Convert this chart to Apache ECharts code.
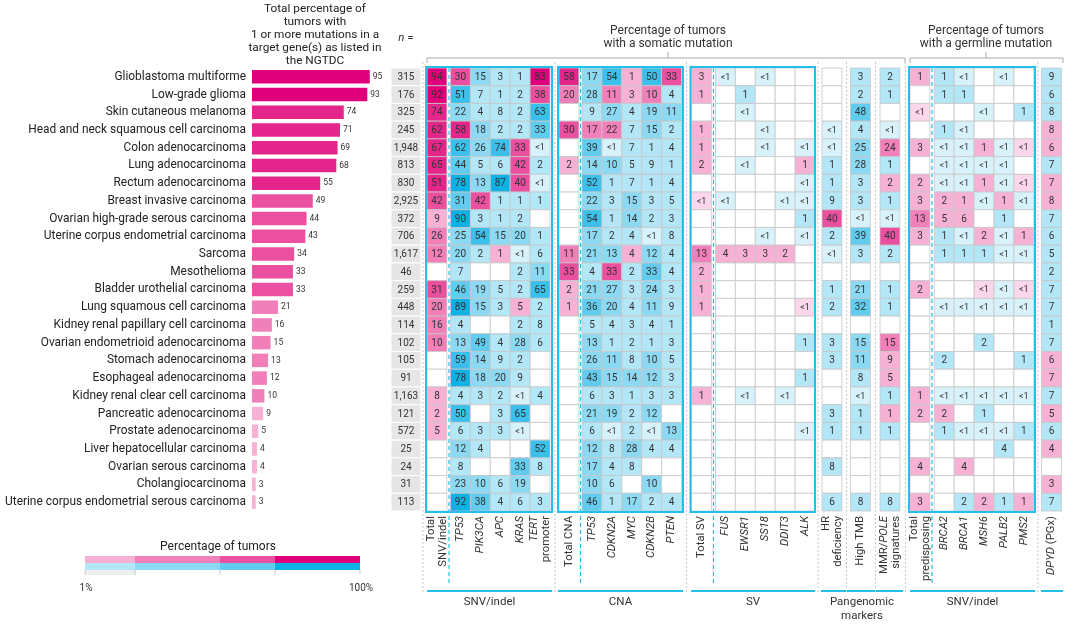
<!DOCTYPE html>
<html><head><meta charset="utf-8">
<script src="https://cdn.jsdelivr.net/npm/echarts@6/dist/echarts.min.js"></script>
<style>html,body{margin:0;padding:0;background:#fff}#c{width:1080px;height:624px}</style>
</head><body><div id="c"></div>
<script>
const LT = 0.5, _ = null; // LT = "<1"
const cancers = ['Glioblastoma multiforme','Low-grade glioma','Skin cutaneous melanoma','Head and neck squamous cell carcinoma','Colon adenocarcinoma','Lung adenocarcinoma','Rectum adenocarcinoma','Breast invasive carcinoma','Ovarian high-grade serous carcinoma','Uterine corpus endometrial carcinoma','Sarcoma','Mesothelioma','Bladder urothelial carcinoma','Lung squamous cell carcinoma','Kidney renal papillary cell carcinoma','Ovarian endometrioid adenocarcinoma','Stomach adenocarcinoma','Esophageal adenocarcinoma','Kidney renal clear cell carcinoma','Pancreatic adenocarcinoma','Prostate adenocarcinoma','Liver hepatocellular carcinoma','Ovarian serous carcinoma','Cholangiocarcinoma','Uterine corpus endometrial serous carcinoma'];
const totalPct = [95,93,74,71,69,68,55,49,44,43,34,33,33,21,16,15,13,12,10,9,5,4,4,3,3];
const nTumors = [315,176,325,245,1948,813,830,2925,372,706,1617,46,259,448,114,102,105,91,1163,121,572,25,24,31,113];

// Somatic SNV/indel
const snvTotal = [94,92,74,62,67,65,51,42,9,26,12,_,31,20,16,10,_,_,8,2,5,_,_,_,_];
const snvGeneLabels = ['{i|TP53}','{i|PIK3CA}','{i|APC}','{i|KRAS}','{i|TERT}\npromoter'];
const snvGenes = [[30,15,3,1,83],[51,7,1,2,38],[22,4,8,2,63],[58,18,2,2,33],[62,26,74,33,LT],[44,5,6,42,2],[78,13,87,40,LT],[31,42,1,1,1],[90,3,1,2,_],[25,54,15,20,1],[20,2,1,LT,6],[7,_,_,2,11],[46,19,5,2,65],[89,15,3,5,2],[4,_,_,2,8],[13,49,4,28,6],[59,14,9,2,_],[78,18,20,9,_],[4,3,2,LT,4],[50,_,3,65,_],[6,3,3,LT,_],[12,4,_,_,52],[8,_,_,33,8],[23,10,6,19,_],[92,38,4,6,3]];
const snvPink = [[0,0],[0,4],[1,4],[3,0],[4,3],[5,3],[6,3],[7,1],[10,2],[13,3]];

// CNA
const cnaTotal = [58,20,_,30,_,2,_,_,_,_,11,33,2,1,_,_,_,_,_,_,_,_,_,_,_];
const cnaGeneLabels = ['{i|TP53}','{i|CDKN2A}','{i|MYC}','{i|CDKN2B}','{i|PTEN}'];
const cnaGenes = [[17,54,1,50,33],[28,11,3,10,4],[9,27,4,19,11],[17,22,7,15,2],[39,LT,7,1,4],[14,10,5,9,1],[52,1,7,1,4],[22,3,15,3,5],[54,1,14,2,3],[17,2,4,LT,8],[21,13,4,12,4],[4,33,2,33,4],[21,27,3,24,3],[36,20,4,11,9],[5,4,3,4,1],[13,1,2,1,3],[26,11,8,10,5],[43,15,14,12,3],[6,3,1,3,3],[21,19,2,12,_],[6,LT,2,LT,13],[12,8,28,4,4],[17,4,8,_,_],[10,6,_,10,_],[46,1,17,2,4]];
const cnaPink = [[0,2],[0,4],[1,1],[1,2],[1,3],[3,0],[3,1],[10,2],[11,1]];

// SV
const svTotal = [3,1,_,1,1,2,_,LT,_,_,13,2,1,1,_,_,_,_,1,_,_,_,_,_,_];
const svGeneLabels = ['{i|FUS}','{i|EWSR1}','{i|SS18}','{i|DDIT3}','{i|ALK}'];
const svGenes = [[LT,_,LT,_,_],[_,1,_,_,_],[_,LT,_,_,_],[_,_,LT,_,_],[_,_,LT,_,LT],[_,LT,_,_,1],[_,_,_,_,LT],[LT,_,_,LT,LT],[_,_,_,_,1],[_,_,LT,_,LT],[4,3,3,2,_],[_,_,_,_,_],[_,_,_,_,_],[_,_,_,_,LT],[_,_,_,_,_],[_,_,_,_,1],[_,_,_,_,_],[_,_,_,_,1],[_,LT,_,LT,_],[_,_,_,_,_],[_,_,_,_,LT],[_,_,_,_,_],[_,_,_,_,_],[_,_,_,_,_],[_,_,_,_,_]];
const svPink = [[5,4],[10,0],[10,1],[10,2],[10,3],[13,4]];

// Pangenomic markers
const hrDeficiency = [_,_,_,LT,LT,1,1,9,40,2,LT,_,1,2,_,3,3,_,_,3,1,_,8,_,6];
const highTmb = [3,2,48,4,25,28,3,3,LT,39,3,_,21,32,_,15,11,8,LT,1,1,_,_,_,8];
const mmrPole = [2,1,_,LT,24,1,2,1,LT,40,2,_,1,1,_,15,9,5,1,1,1,_,_,_,8];
const hrPinkRows = [8];
const mmrPinkRows = [4,6,9,15,16,17,19];

// Germline
const germTotal = [1,_,LT,_,3,_,2,3,13,3,_,_,2,_,_,_,_,_,1,2,_,_,4,_,3];
const germGeneLabels = ['{i|BRCA2}','{i|BRCA1}','{i|MSH6}','{i|PALB2}','{i|PMS2}'];
const germGenes = [[1,LT,_,LT,_],[1,1,_,_,_],[_,_,LT,_,1],[1,LT,_,_,_],[LT,LT,1,LT,LT],[LT,LT,LT,LT,_],[LT,LT,1,LT,LT],[2,1,LT,1,LT],[5,6,_,1,_],[1,LT,2,LT,1],[1,1,1,LT,LT],[_,_,_,_,_],[_,_,LT,LT,LT],[LT,LT,LT,LT,LT],[_,_,_,_,_],[_,_,2,_,_],[2,_,_,_,1],[_,_,_,_,_],[LT,LT,LT,LT,LT],[2,_,1,_,_],[1,LT,LT,LT,1],[_,_,_,4,_],[_,4,_,_,_],[_,_,_,_,_],[_,2,2,1,1]];
const germPink = [[4,2],[4,4],[6,2],[6,4],[7,0],[7,1],[7,3],[8,0],[8,1],[9,2],[9,4],[12,2],[12,4],[19,0],[22,1],[24,2],[24,4]];

// Pharmacogenomics
const dpyd = [9,6,8,8,6,7,7,8,7,6,5,2,7,7,1,7,6,7,7,5,6,4,_,3,7];
const dpydPinkRows = [3,4,6,7,16,17,19,21,23];

const groupNames = ['SNV/indel','CNA','SV','Pangenomic\nmarkers','SNV/indel'];

// ---------- styling ----------
const PINK = ['#fcd6ea','#f7b1d5','#f07fba','#ea4fa0','#e4268c','#df007c'];
const BLUE = ['#d8f2fb','#b3e6f7','#8cd9f3','#62ccef','#3cc0eb','#0db2e4'];
function lvl(v){ return v<1?0 : v<10?1 : v<30?2 : v<50?3 : v<75?4 : 5; }
const FONT = 'Roboto, "Liberation Sans", sans-serif';
const TOP = 68, H = 443, CW = 19.9;

function colMatrix(arr){ return arr.map(v=>[v]); }
function cellData(matrix, pinkPairs, allPink){
  const out=[];
  matrix.forEach((row,r)=>row.forEach((v,c)=>{
    const p = allPink || (pinkPairs||[]).some(q=>q[0]===r&&q[1]===c) ? 1 : 0;
    out.push([c, r, v==null?-1:v, p]);
  }));
  return out;
}
const rowsToPairs = rows => rows.map(r=>[r,0]);

const blocks = [
  {left:427,   cols:1, labels:['Total\nSNV/indel'], data:cellData(colMatrix(snvTotal),null,true)},
  {left:450.5, cols:5, labels:snvGeneLabels, data:cellData(snvGenes,snvPink)},
  {left:559,   cols:1, labels:['Total CNA'], data:cellData(colMatrix(cnaTotal),null,true)},
  {left:582,   cols:5, labels:cnaGeneLabels, data:cellData(cnaGenes,cnaPink)},
  {left:691.5, cols:1, labels:['Total SV'], data:cellData(colMatrix(svTotal),null,true)},
  {left:715.5, cols:5, labels:svGeneLabels, data:cellData(svGenes,svPink)},
  {left:822,   cols:1, labels:['HR\ndeficiency'], data:cellData(colMatrix(hrDeficiency),rowsToPairs(hrPinkRows))},
  {left:850.5, cols:1, labels:['High TMB'], data:cellData(colMatrix(highTmb),null)},
  {left:880,   cols:1, labels:['MMR/{i|POLE}\nsignatures'], data:cellData(colMatrix(mmrPole),rowsToPairs(mmrPinkRows))},
  {left:910,   cols:1, labels:['Total\npredisposing'], data:cellData(colMatrix(germTotal),null,true)},
  {left:934.3, cols:5, labels:germGeneLabels, data:cellData(germGenes,germPink)},
  {left:1041.5,cols:1, labels:['{i|DPYD} (PGx)'], data:cellData(colMatrix(dpyd),rowsToPairs(dpydPinkRows))}
];

function renderCell(params, api){
  const c = api.coord([api.value(0), api.value(1)]);
  const s = api.size([1,1]);
  const v = api.value(2), p = api.value(3);
  const x=c[0]-s[0]/2, y=c[1]-s[1]/2;
  const fill = v<0 ? '#ffffff' : (p ? PINK : BLUE)[lvl(v)];
  const kids=[{type:'rect',shape:{x:x,y:y,width:s[0],height:s[1]},style:{fill:fill,stroke:'#c6c6c6',lineWidth:0.8}}];
  if(v>=0) kids.push({type:'text',style:{text: v<1?'<1':String(v), x:c[0], y:c[1]+0.5, align:'center', verticalAlign:'middle', fontSize: v<1?9:10, fontFamily:FONT, fill:'#333'}});
  return {type:'group',children:kids};
}
function renderN(params, api){
  const c = api.coord([0, api.value(0)]);
  const s = api.size([1,1]);
  const v = api.value(1);
  return {type:'group',children:[
    {type:'rect',shape:{x:c[0]-s[0]/2,y:c[1]-s[1]/2,width:s[0],height:s[1]},style:{fill:'#e6e6e6',stroke:'#ffffff',lineWidth:1}},
    {type:'text',style:{text:v.toLocaleString('en-US'),x:c[0],y:c[1]+0.5,align:'center',verticalAlign:'middle',fontSize:10,fontFamily:FONT,fill:'#333'}}
  ]};
}

const grid=[], xAxis=[], yAxis=[], series=[];
// bar grid
grid.push({left:252, top:TOP, width:124, height:H});
xAxis.push({type:'value', gridIndex:0, min:0, max:100, show:false});
yAxis.push({type:'category', gridIndex:0, data:cancers, inverse:true, axisLine:{show:false}, axisTick:{show:false},
  axisLabel:{fontSize:11.9, color:'#222', margin:6, fontFamily:FONT}});
series.push({type:'bar', xAxisIndex:0, yAxisIndex:0, barWidth:13.5,
  data: totalPct.map(v=>({value:v, itemStyle:{color:PINK[Math.max(1,lvl(v))]}})),
  label:{show:true, position:'right', distance:3, fontSize:8.5, color:'#333', fontFamily:FONT}});
// n grid
grid.push({left:391, top:TOP, width:30, height:H});
xAxis.push({type:'category', gridIndex:1, data:['n'], show:false});
yAxis.push({type:'category', gridIndex:1, data:cancers.map((_,i)=>i), inverse:true, show:false});
series.push({type:'custom', xAxisIndex:1, yAxisIndex:1, renderItem:renderN, data:nTumors.map((v,i)=>[i,v]), encode:{y:0}});
// heat blocks
blocks.forEach((b,k)=>{
  const gi = k+2;
  grid.push({left:b.left, top:TOP, width:b.cols*CW, height:H});
  xAxis.push({type:'category', gridIndex:gi, data:b.labels, axisLine:{show:false}, axisTick:{show:false},
    axisLabel:{rotate:90, interval:0, margin:5, fontSize:11.3, color:'#333', fontFamily:FONT, lineHeight:12,
      rich:{i:{fontStyle:'italic', fontSize:11.3, color:'#333', fontFamily:FONT}}}});
  yAxis.push({type:'category', gridIndex:gi, data:cancers.map((_,i)=>i), inverse:true, show:false});
  series.push({type:'custom', xAxisIndex:gi, yAxisIndex:gi, renderItem:renderCell, data:b.data, encode:{x:0,y:1}});
});

// ---------- decorations ----------
const g = [];
const BOX = '#22bfea';
[[426,552],[558,683],[690.5,815],[909,1035]].forEach(([a,b])=>{
  g.push({type:'rect', shape:{x:a,y:TOP-1,width:b-a,height:H+2}, style:{fill:null,stroke:BOX,lineWidth:2}, z:10});
});
[449,580.5,713.5,932].forEach(x=>{
  g.push({type:'line', shape:{x1:x,y1:TOP,x2:x,y2:586}, style:{stroke:BOX,lineWidth:1.2,lineDash:[4,3]}, z:10});
});
[423,555,686.5,818,846.5,875.5,905.5,1038].forEach(x=>{
  g.push({type:'line', shape:{x1:x,y1:62,x2:x,y2:594}, style:{stroke:'#c8c8c8',lineWidth:1,lineDash:[2,2]}, z:1});
});
[[427,552,'SNV/indel'],[558,683,'CNA'],[691,815,'SV'],[821,903,'Pangenomic\nmarkers'],[910,1035,'SNV/indel'],[1041,1063,'']].forEach(([a,b,t])=>{
  g.push({type:'line', shape:{x1:a,y1:591,x2:b,y2:591}, style:{stroke:BOX,lineWidth:2}});
  if(t) g.push({type:'text', style:{text:t, x:(a+b)/2, y:595, align:'center', verticalAlign:'top', fontSize:11.5, lineHeight:14, fill:'#333', fontFamily:FONT}});
});
function bracket(a,b,cx){
  g.push({type:'polyline', shape:{points:[[a,63],[a,58],[b,58],[b,63]]}, style:{stroke:'#aaaaaa',lineWidth:1,fill:null}});
  g.push({type:'line', shape:{x1:cx,y1:58,x2:cx,y2:52}, style:{stroke:'#aaaaaa',lineWidth:1}});
}
bracket(427,905,668);
bracket(910,1063,986);
g.push({type:'text', style:{text:'Percentage of tumors\nwith a somatic mutation', x:668, y:24, align:'center', verticalAlign:'top', fontSize:12, lineHeight:13.5, fill:'#333', fontFamily:FONT}});
g.push({type:'text', style:{text:'Percentage of tumors\nwith a germline mutation', x:986, y:24, align:'center', verticalAlign:'top', fontSize:12, lineHeight:13.5, fill:'#333', fontFamily:FONT}});
g.push({type:'text', style:{text:'Total percentage of\ntumors with\n1 or more mutations in a\ntarget gene(s) as listed in\nthe NGTDC', x:315, y:2, align:'center', verticalAlign:'top', fontSize:11.8, lineHeight:13.2, fill:'#222', fontFamily:FONT}});
g.push({type:'text', style:{text:'{i|n} =', x:406, y:38, align:'center', verticalAlign:'middle', fontSize:11.5, fill:'#333', fontFamily:FONT, rich:{i:{fontStyle:'italic',fontSize:11.5,fill:'#333',fontFamily:FONT}}}});
g.push({type:'text', style:{text:'Percentage of tumors', x:218, y:547, align:'center', verticalAlign:'middle', fontSize:12, fill:'#222', fontFamily:FONT}});
const segs=[[85,135,1],[135,220,2],[220,275,3],[275,360,5]];
segs.forEach(([a,b,l])=>{
  g.push({type:'rect', shape:{x:a,y:556,width:b-a,height:7}, style:{fill:PINK[l]}});
  g.push({type:'rect', shape:{x:a,y:563,width:b-a,height:7}, style:{fill:BLUE[l]}});
});
g.push({type:'rect', shape:{x:85,y:570,width:50,height:5}, style:{fill:'#eeeeee'}});
[85,135,220,275,360].forEach(x=>g.push({type:'line', shape:{x1:x,y1:570,x2:x,y2:575}, style:{stroke:'#bbbbbb',lineWidth:0.8}}));
g.push({type:'text', style:{text:'1%', x:86, y:588, align:'center', verticalAlign:'middle', fontSize:10, fill:'#333', fontFamily:FONT}});
g.push({type:'text', style:{text:'100%', x:361, y:588, align:'center', verticalAlign:'middle', fontSize:10, fill:'#333', fontFamily:FONT}});

const chart = echarts.init(document.getElementById('c'), null, {renderer:'canvas'});
chart.setOption({animation:false, backgroundColor:'#fff', grid, xAxis, yAxis, series, graphic:{elements:g}});
</script></body></html>
